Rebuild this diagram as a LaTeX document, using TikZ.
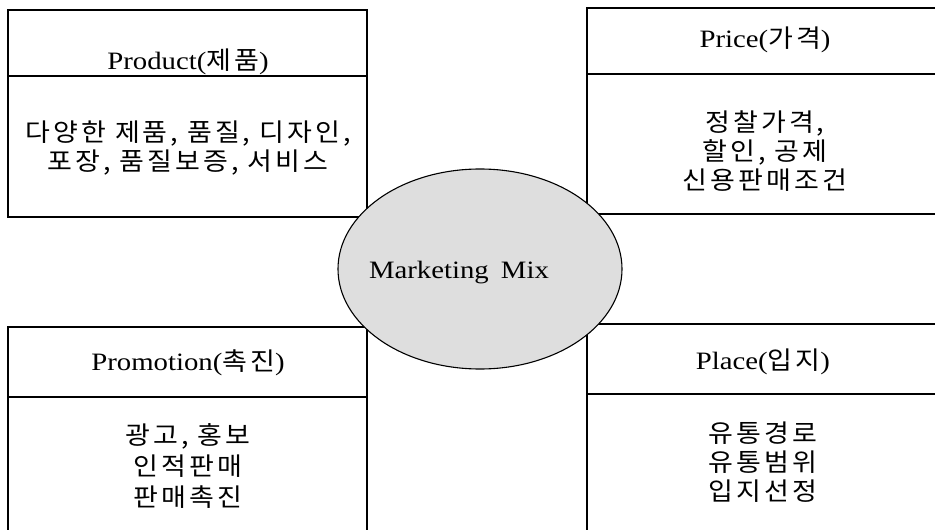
\documentclass[tikz,border=0pt]{standalone}
\usepackage{fontspec}
\setmainfont{Liberation Serif}[FakeStretch=1.15]
\newfontfamily\kr{Noto Sans CJK KR}[FakeStretch=1.08,LetterSpace=12]
\usetikzlibrary{shapes.geometric}
\begin{document}
\begin{tikzpicture}[x=1pt,y=-1pt,
  cell/.style={draw, line width=1.2pt, inner sep=0pt, outer sep=0pt, anchor=north west},
  head/.style={font=\fontsize{25}{29}\selectfont, inner sep=0pt},
  body/.style={font=\fontsize{25}{29}\selectfont\kr, align=center, inner sep=0pt},
  mixshape/.style={ellipse, draw, line width=1.1pt, fill=black!13, inner sep=0pt,
    minimum width=284pt, minimum height=200pt}]
\useasboundingbox (0,0) rectangle (935,530);
\fill[white] (0,0) rectangle (935,530);
\clip (0,0) rectangle (935,530);
% boxes
\node[cell, minimum width=359pt, minimum height=66pt]  (tlh) at (8,10) {};
\node[cell, minimum width=359pt, minimum height=141pt] (tlb) at (8,76) {};
\node[cell, minimum width=360pt, minimum height=66pt]  (trh) at (587,8) {};
\node[cell, minimum width=360pt, minimum height=140pt] (trb) at (587,74) {};
\node[cell, minimum width=359pt, minimum height=70pt]  (blh) at (8,327) {};
\node[cell, minimum width=359pt, minimum height=170pt] (blb) at (8,397) {};
\node[cell, minimum width=360pt, minimum height=70pt]  (brh) at (587,324) {};
\node[cell, minimum width=360pt, minimum height=170pt] (brb) at (587,394) {};
% texts
\node[head] (tlt) at (188,62) {Product({\kr 제품})};
\node[body] (tlx) at (188,148) {다양한 제품, 품질, 디자인,\\포장, 품질보증, 서비스};
\node[head] (trt) at (765,40) {Price({\kr 가격})};
\node[body] (trx) at (765,151) {정찰가격,\\할인, 공제\\신용판매조건};
\node[head] (blt) at (188,363) {Promotion({\kr 촉진})};
\node[body, font=\fontsize{25}{31}\selectfont\kr] (blx) at (188,466) {광고, 홍보\\인적판매\\판매촉진};
\node[head] (brt) at (763,362) {Place({\kr 입지})};
\node[body] (brx) at (763,462) {유통경로\\유통범위\\입지선정};
% centre ellipse
\node[mixshape] (mix) at (480,269) {};
\node[head] (mixt) at (459,273) {Marketing\hspace{5pt} Mix};
\end{tikzpicture}
\end{document}
